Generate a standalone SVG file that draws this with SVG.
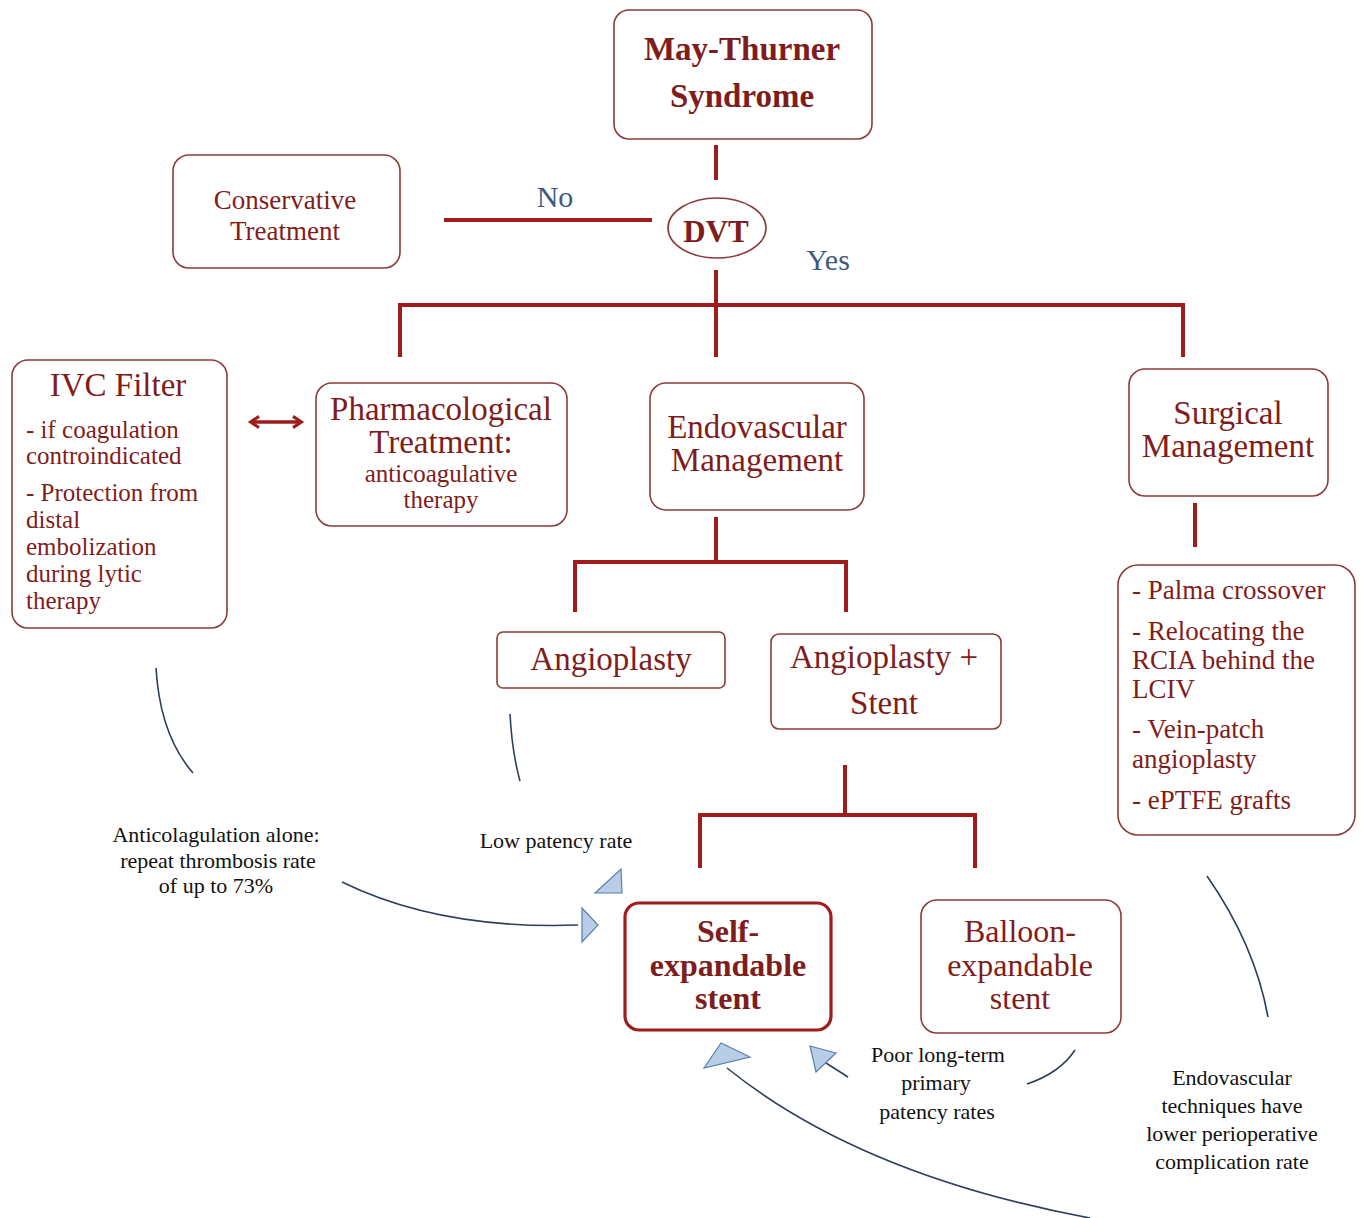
<svg xmlns="http://www.w3.org/2000/svg" width="1361" height="1218" viewBox="0 0 1361 1218">
<style>
.box{fill:#fff;stroke:#8c3b3b;stroke-width:1.6}
.boxb{fill:#fff;stroke:#9e1c1c;stroke-width:3.2}
.t{font-family:"Liberation Serif","Times New Roman",serif;fill:#7f1d1d}
.c{text-anchor:middle}
.b{font-weight:bold}
.con{stroke:#a01c1c;stroke-width:4;fill:none}
.lbl{font-family:"Liberation Serif",serif;fill:#3e5a7e;font-size:30px}
.ann{font-family:"Liberation Serif",serif;fill:#111;font-size:22px;text-anchor:middle}
.cv{fill:none;stroke:#2f3f5a;stroke-width:1.6}
.ah{fill:#b8cde6;stroke:#5b7fb0;stroke-width:1.2}
</style>
<defs>
<marker id="chev" viewBox="0 0 10 10" refX="6" refY="5" markerWidth="4" markerHeight="4" orient="auto-start-reverse">
<path d="M1,1 L7,5 L1,9" fill="none" stroke="#a01c1c" stroke-width="2.2"/>
</marker>
</defs>
<rect width="1361" height="1218" fill="#fff"/>

<g id="connectors">
<path class="con" d="M716,145 V180"/>
<path class="con" d="M444,220 H652"/>
<path class="con" d="M716,270 V357 M400,357 V305 H1183 V357"/>
<path class="con" d="M716,517 V562 M575,612 V562 H846 V612"/>
<path class="con" d="M1195,503 V547"/>
<path class="con" d="M845,765 V815 M700,868 V815 H975 V868"/>
<path d="M252,422 H300" stroke="#a01c1c" stroke-width="3.5" fill="none" marker-start="url(#chev)" marker-end="url(#chev)"/>
<path class="cv" d="M156,668 Q160,735 193,773"/>
<path class="cv" d="M510,714 Q512,752 520,781"/>
<path class="cv" d="M342,882 Q440,930 578,925"/>
<polygon class="ah" points="582,908 598,925 582,942"/>
<polygon class="ah" points="595,893 621,869 622,893"/>
<path class="cv" d="M1207,876 Q1255,945 1268,1017"/>
<path class="cv" d="M1075,1050 Q1060,1073 1027,1084"/>
<path class="cv" d="M848,1077 L826,1063"/>
<polygon class="ah" points="810,1046 836,1053 816,1072"/>
<path class="cv" d="M727,1068 Q860,1175 1090,1218"/>
<polygon class="ah" points="704,1068 721,1043 750,1057"/>
</g>

<g id="n-mts"><rect class="box" x="614" y="10" width="258" height="129" rx="15"/>
<text class="t c b" font-size="33" x="742" y="60">May-Thurner</text>
<text class="t c b" font-size="33" x="742" y="107">Syndrome</text></g>

<g id="n-dvt"><ellipse cx="717" cy="228" rx="49" ry="30" fill="#fff" stroke="#8c3b3b" stroke-width="1.6"/>
<text class="t c b" font-size="31" x="716" y="242">DVT</text></g>

<g id="l-no"><text class="lbl" x="555" y="207" text-anchor="middle">No</text></g>
<g id="l-yes"><text class="lbl" x="828" y="270" text-anchor="middle">Yes</text></g>

<g id="n-cons"><rect class="box" x="173" y="155" width="227" height="113" rx="16"/>
<text class="t c" font-size="27" x="285" y="209">Conservative</text>
<text class="t c" font-size="27" x="285" y="240">Treatment</text></g>

<g id="n-ivc"><rect class="box" x="12" y="360" width="215" height="268" rx="16"/>
<text class="t c" font-size="33" x="118" y="396">IVC Filter</text>
<text class="t" font-size="25" x="26" y="438">- if coagulation</text>
<text class="t" font-size="25" x="26" y="464">controindicated</text>
<text class="t" font-size="25" x="26" y="501">- Protection from</text>
<text class="t" font-size="25" x="26" y="528">distal</text>
<text class="t" font-size="25" x="26" y="555">embolization</text>
<text class="t" font-size="25" x="26" y="582">during lytic</text>
<text class="t" font-size="25" x="26" y="609">therapy</text></g>

<g id="n-pharm"><rect class="box" x="316" y="383" width="251" height="143" rx="16"/>
<text class="t c" font-size="33" x="441" y="420">Pharmacological</text>
<text class="t c" font-size="33" x="441" y="453">Treatment:</text>
<text class="t c" font-size="25" x="441" y="482">anticoagulative</text>
<text class="t c" font-size="25" x="441" y="508">therapy</text></g>

<g id="n-endo"><rect class="box" x="650" y="383" width="214" height="127" rx="16"/>
<text class="t c" font-size="33" x="757" y="438">Endovascular</text>
<text class="t c" font-size="33" x="757" y="471">Management</text></g>

<g id="n-surg"><rect class="box" x="1129" y="369" width="199" height="127" rx="16"/>
<text class="t c" font-size="33" x="1228" y="424">Surgical</text>
<text class="t c" font-size="33" x="1228" y="457">Management</text></g>

<g id="n-surglist"><rect class="box" x="1118" y="565" width="237" height="270" rx="20"/>
<text class="t" font-size="27" x="1132" y="599">- Palma crossover</text>
<text class="t" font-size="27" x="1132" y="640">- Relocating the</text>
<text class="t" font-size="27" x="1132" y="669">RCIA  behind the</text>
<text class="t" font-size="27" x="1132" y="698">LCIV</text>
<text class="t" font-size="27" x="1132" y="738">- Vein-patch</text>
<text class="t" font-size="27" x="1132" y="768">angioplasty</text>
<text class="t" font-size="27" x="1132" y="809">- ePTFE grafts</text></g>

<g id="n-angio"><rect class="box" x="497" y="632" width="228" height="56" rx="6"/>
<text class="t c" font-size="33" x="611" y="670">Angioplasty</text></g>

<g id="n-angiostent"><rect class="box" x="771" y="634" width="230" height="95" rx="8"/>
<text class="t c" font-size="33" x="884" y="668">Angioplasty +</text>
<text class="t c" font-size="33" x="884" y="714">Stent</text></g>

<g id="n-self"><rect class="boxb" x="625" y="903" width="206" height="127" rx="14"/>
<text class="t c b" font-size="32" x="728" y="942">Self-</text>
<text class="t c b" font-size="32" x="728" y="976">expandable</text>
<text class="t c b" font-size="32" x="728" y="1009">stent</text></g>

<g id="n-balloon"><rect class="box" x="921" y="900" width="200" height="133" rx="16"/>
<text class="t c" font-size="32" x="1020" y="942">Balloon-</text>
<text class="t c" font-size="32" x="1020" y="976">expandable</text>
<text class="t c" font-size="32" x="1020" y="1009">stent</text></g>

<g id="a-anticoag"><text class="ann" x="216" y="842">Anticolagulation  alone:</text>
<text class="ann" x="218" y="868">repeat thrombosis rate</text>
<text class="ann" x="216" y="893">of up to 73%</text></g>
<g id="a-low"><text class="ann" x="556" y="848">Low patency rate</text></g>
<g id="a-poor"><text class="ann" x="938" y="1062">Poor long-term</text>
<text class="ann" x="936" y="1090">primary</text>
<text class="ann" x="937" y="1119">patency rates</text></g>
<g id="a-endo"><text class="ann" x="1232" y="1085">Endovascular</text>
<text class="ann" x="1232" y="1113">techniques have</text>
<text class="ann" x="1232" y="1141">lower perioperative</text>
<text class="ann" x="1232" y="1169">complication rate</text></g>
</svg>
